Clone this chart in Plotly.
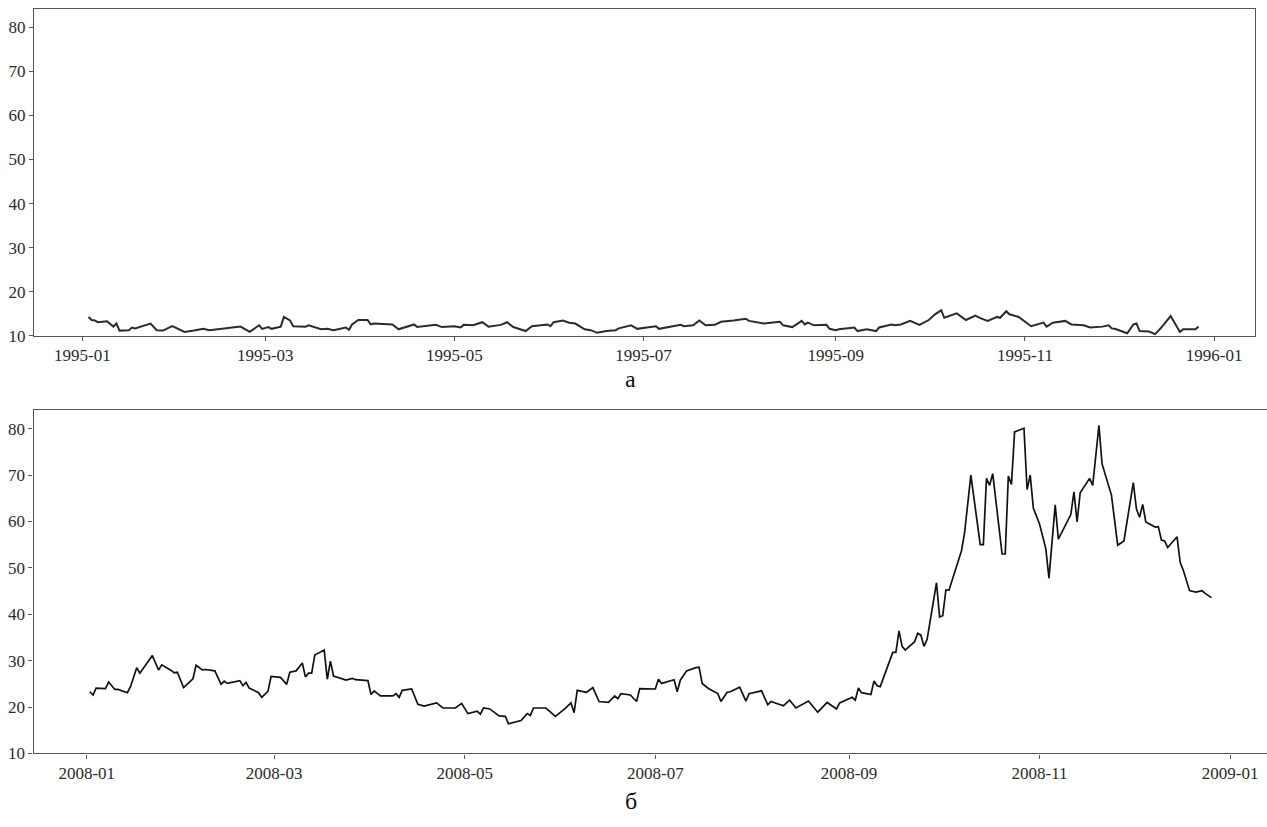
import plotly.graph_objects as go

# --- 1995 series ---
dates_1995 = [
    "1995-01-03", "1995-01-04", "1995-01-05", "1995-01-06", "1995-01-09", "1995-01-11",
    "1995-01-12", "1995-01-13", "1995-01-16", "1995-01-17", "1995-01-18", "1995-01-23",
    "1995-01-25", "1995-01-27", "1995-01-30", "1995-02-03", "1995-02-06", "1995-02-09",
    "1995-02-11", "1995-02-21", "1995-02-24", "1995-02-27", "1995-02-28", "1995-03-02",
    "1995-03-03", "1995-03-06", "1995-03-07", "1995-03-09", "1995-03-10", "1995-03-14",
    "1995-03-15", "1995-03-19", "1995-03-21", "1995-03-23", "1995-03-27", "1995-03-28",
    "1995-03-29", "1995-03-31", "1995-04-03", "1995-04-04", "1995-04-05", "1995-04-11",
    "1995-04-13", "1995-04-18", "1995-04-19", "1995-04-22", "1995-04-25", "1995-04-27",
    "1995-05-01", "1995-05-03", "1995-05-04", "1995-05-07", "1995-05-10", "1995-05-12",
    "1995-05-16", "1995-05-18", "1995-05-20", "1995-05-24", "1995-05-26", "1995-05-31",
    "1995-06-01", "1995-06-02", "1995-06-05", "1995-06-07", "1995-06-09", "1995-06-12",
    "1995-06-14", "1995-06-16", "1995-06-19", "1995-06-22", "1995-06-23", "1995-06-27",
    "1995-06-29", "1995-07-02", "1995-07-05", "1995-07-06", "1995-07-10", "1995-07-13",
    "1995-07-14", "1995-07-17", "1995-07-19", "1995-07-21", "1995-07-24", "1995-07-26",
    "1995-07-30", "1995-08-03", "1995-08-04", "1995-08-07", "1995-08-09", "1995-08-11",
    "1995-08-14", "1995-08-15", "1995-08-18", "1995-08-21", "1995-08-22", "1995-08-23",
    "1995-08-25", "1995-08-29", "1995-08-30", "1995-09-01", "1995-09-02", "1995-09-07",
    "1995-09-08", "1995-09-11", "1995-09-14", "1995-09-15", "1995-09-19", "1995-09-20",
    "1995-09-22", "1995-09-25", "1995-09-28", "1995-10-01", "1995-10-03", "1995-10-05",
    "1995-10-06", "1995-10-10", "1995-10-13", "1995-10-16", "1995-10-18", "1995-10-20",
    "1995-10-23", "1995-10-24", "1995-10-26", "1995-10-27", "1995-10-30", "1995-11-03",
    "1995-11-07", "1995-11-08", "1995-11-10", "1995-11-14", "1995-11-16", "1995-11-20",
    "1995-11-22", "1995-11-26", "1995-11-28", "1995-11-29", "1995-11-30", "1995-12-02",
    "1995-12-04", "1995-12-06", "1995-12-07", "1995-12-08", "1995-12-11", "1995-12-13",
    "1995-12-15", "1995-12-18", "1995-12-21", "1995-12-22", "1995-12-26", "1995-12-27",
]
values_1995 = [
    14.3, 13.6, 13.5, 13.1, 13.3, 12.1,
    12.8, 11.2, 11.3, 11.9, 11.7, 12.8,
    11.3, 11.2, 12.2, 10.9, 11.2, 11.6,
    11.3, 12.1, 10.9, 12.4, 11.6, 12.0,
    11.6, 12.1, 14.3, 13.5, 12.2, 12.1,
    12.4, 11.5, 11.6, 11.3, 11.9, 11.4,
    12.6, 13.6, 13.6, 12.6, 12.8, 12.6,
    11.5, 12.6, 12.0, 12.2, 12.5, 12.0,
    12.2, 11.9, 12.5, 12.4, 13.1, 12.1,
    12.5, 13.1, 12.0, 11.1, 12.2, 12.6,
    12.2, 13.1, 13.5, 13.0, 12.8, 11.5,
    11.3, 10.7, 11.1, 11.3, 11.7, 12.4,
    11.6, 11.9, 12.2, 11.6, 12.2, 12.5,
    12.2, 12.4, 13.5, 12.4, 12.5, 13.2,
    13.5, 13.9, 13.4, 13.1, 12.8, 13.0,
    13.2, 12.4, 12.0, 13.4, 12.6, 13.0,
    12.4, 12.5, 11.6, 11.3, 11.5, 11.9,
    11.1, 11.5, 11.1, 11.9, 12.6, 12.4,
    12.6, 13.4, 12.5, 13.6, 14.9, 15.8,
    14.1, 15.1, 13.6, 14.6, 13.9, 13.4,
    14.3, 14.1, 15.6, 14.9, 14.3, 12.2,
    13.0, 12.1, 13.0, 13.4, 12.6, 12.4,
    11.9, 12.1, 12.4, 11.7, 11.6, 11.1,
    10.6, 12.6, 12.8, 11.1, 11.0, 10.4,
    11.9, 14.5, 10.9, 11.5, 11.5, 12.1,
]

# --- 2008 series ---
dates_2008 = [
    "2008-01-02", "2008-01-03", "2008-01-04", "2008-01-07", "2008-01-08", "2008-01-10",
    "2008-01-11", "2008-01-14", "2008-01-15", "2008-01-17", "2008-01-18", "2008-01-20",
    "2008-01-22", "2008-01-24", "2008-01-25", "2008-01-28", "2008-01-29", "2008-01-30",
    "2008-02-01", "2008-02-04", "2008-02-05", "2008-02-07", "2008-02-08", "2008-02-11",
    "2008-02-13", "2008-02-14", "2008-02-15", "2008-02-19", "2008-02-20", "2008-02-21",
    "2008-02-22", "2008-02-25", "2008-02-26", "2008-02-28", "2008-02-29", "2008-03-03",
    "2008-03-05", "2008-03-06", "2008-03-08", "2008-03-10", "2008-03-11", "2008-03-12",
    "2008-03-13", "2008-03-14", "2008-03-17", "2008-03-18", "2008-03-19", "2008-03-20",
    "2008-03-24", "2008-03-26", "2008-03-27", "2008-03-31", "2008-04-01", "2008-04-02",
    "2008-04-04", "2008-04-08", "2008-04-09", "2008-04-10", "2008-04-11", "2008-04-14",
    "2008-04-16", "2008-04-18", "2008-04-22", "2008-04-24", "2008-04-28", "2008-04-30",
    "2008-05-02", "2008-05-05", "2008-05-06", "2008-05-07", "2008-05-09", "2008-05-12",
    "2008-05-14", "2008-05-15", "2008-05-19", "2008-05-21", "2008-05-22", "2008-05-23",
    "2008-05-27", "2008-05-30", "2008-06-02", "2008-06-04", "2008-06-05", "2008-06-06",
    "2008-06-09", "2008-06-11", "2008-06-13", "2008-06-16", "2008-06-18", "2008-06-19",
    "2008-06-20", "2008-06-23", "2008-06-25", "2008-06-26", "2008-07-01", "2008-07-02",
    "2008-07-03", "2008-07-07", "2008-07-08", "2008-07-09", "2008-07-11", "2008-07-14",
    "2008-07-15", "2008-07-16", "2008-07-18", "2008-07-21", "2008-07-22", "2008-07-24",
    "2008-07-25", "2008-07-28", "2008-07-30", "2008-07-31", "2008-08-04", "2008-08-06",
    "2008-08-07", "2008-08-11", "2008-08-13", "2008-08-15", "2008-08-19", "2008-08-22",
    "2008-08-25", "2008-08-28", "2008-08-29", "2008-09-02", "2008-09-03", "2008-09-04",
    "2008-09-05", "2008-09-08", "2008-09-09", "2008-09-10", "2008-09-11", "2008-09-15",
    "2008-09-16", "2008-09-17", "2008-09-18", "2008-09-19", "2008-09-22", "2008-09-23",
    "2008-09-24", "2008-09-25", "2008-09-26", "2008-09-29", "2008-09-30", "2008-10-01",
    "2008-10-02", "2008-10-03", "2008-10-07", "2008-10-08", "2008-10-10", "2008-10-13",
    "2008-10-14", "2008-10-15", "2008-10-16", "2008-10-17", "2008-10-20", "2008-10-21",
    "2008-10-22", "2008-10-23", "2008-10-24", "2008-10-27", "2008-10-28", "2008-10-29",
    "2008-10-30", "2008-11-01", "2008-11-03", "2008-11-04", "2008-11-06", "2008-11-07",
    "2008-11-11", "2008-11-12", "2008-11-13", "2008-11-14", "2008-11-17", "2008-11-18",
    "2008-11-20", "2008-11-21", "2008-11-24", "2008-11-26", "2008-11-28", "2008-12-01",
    "2008-12-02", "2008-12-03", "2008-12-04", "2008-12-05", "2008-12-08", "2008-12-09",
    "2008-12-10", "2008-12-11", "2008-12-12", "2008-12-15", "2008-12-16", "2008-12-17",
    "2008-12-19", "2008-12-21", "2008-12-23", "2008-12-24", "2008-12-26",
]
values_2008 = [
    23.3, 22.6, 24.1, 24.0, 25.4, 23.8,
    23.8, 23.1, 24.4, 28.5, 27.3, 29.3,
    31.1, 28.0, 29.1, 27.9, 27.4, 27.5,
    24.2, 26.1, 29.0, 28.0, 28.1, 27.8,
    24.9, 25.6, 25.1, 25.7, 24.6, 25.3,
    24.1, 23.1, 22.1, 23.4, 26.6, 26.4,
    24.9, 27.5, 27.8, 29.5, 26.5, 27.3,
    27.3, 31.2, 32.3, 26.0, 29.9, 26.7,
    25.8, 26.2, 25.9, 25.7, 22.7, 23.5,
    22.4, 22.4, 22.9, 22.1, 23.6, 23.9,
    20.6, 20.2, 20.9, 19.8, 19.8, 20.8,
    18.6, 19.1, 18.5, 19.8, 19.6, 18.1,
    18.0, 16.4, 17.1, 18.6, 18.2, 19.8,
    19.8, 18.0, 19.6, 20.9, 18.8, 23.6,
    23.2, 24.2, 21.2, 21.0, 22.4, 21.8,
    22.9, 22.6, 21.2, 24.0, 23.9, 26.0,
    25.1, 25.9, 23.3, 25.8, 27.8, 28.5,
    28.6, 25.1, 24.0, 22.9, 21.2, 23.2,
    23.3, 24.3, 21.3, 22.9, 23.5, 20.5,
    21.2, 20.3, 21.5, 19.8, 21.3, 18.9,
    21.0, 19.6, 20.9, 22.1, 21.5, 24.1,
    23.1, 22.7, 25.6, 24.6, 24.4, 31.8,
    31.8, 36.4, 33.1, 32.3, 34.1, 35.9,
    35.5, 33.1, 34.6, 46.8, 39.4, 39.7,
    45.2, 45.2, 53.7, 57.6, 70.0, 55.0,
    55.0, 69.3, 67.8, 70.3, 53.0, 53.0,
    69.8, 68.0, 79.3, 80.1, 66.9, 70.0,
    62.9, 59.4, 54.1, 47.8, 63.6, 56.2,
    61.5, 66.4, 59.9, 66.2, 69.3, 67.8,
    80.7, 72.4, 65.7, 54.9, 55.8, 68.4,
    62.7, 60.9, 63.7, 59.9, 58.8, 58.9,
    56.0, 55.8, 54.4, 56.7, 51.2, 49.5,
    45.1, 44.8, 45.1, 44.5, 43.6,
]

# Tick positions and labels
ticks_1995 = ["1995-01-01", "1995-03-01", "1995-05-01", "1995-07-01",
              "1995-09-01", "1995-11-01", "1996-01-01"]
ticklabels_1995 = ["1995-01", "1995-03", "1995-05", "1995-07",
                   "1995-09", "1995-11", "1996-01"]
ticks_2008 = ["2008-01-01", "2008-03-01", "2008-05-01", "2008-07-01",
              "2008-09-01", "2008-11-01", "2009-01-01"]
ticklabels_2008 = ["2008-01", "2008-03", "2008-05", "2008-07",
                   "2008-09", "2008-11", "2009-01"]
y_ticks = [10, 20, 30, 40, 50, 60, 70, 80]
panel_labels = ["а", "б"]

W, H = 1267, 827
SERIF = "Liberation Serif, Times New Roman, serif"
AXIS_COLOR = "#555555"
TICK_FONT = dict(family=SERIF, size=17, color="#2a2a2a")

fig = go.Figure()
fig.add_trace(go.Scatter(x=dates_1995, y=values_1995, mode="lines",
                         line=dict(color="#2b2b2b", width=2),
                         xaxis="x", yaxis="y", showlegend=False))
fig.add_trace(go.Scatter(x=dates_2008, y=values_2008, mode="lines",
                         line=dict(color="#111111", width=1.7),
                         xaxis="x2", yaxis="y2", showlegend=False))

common_x = dict(type="date", showgrid=False, zeroline=False, showline=True,
                linecolor=AXIS_COLOR, linewidth=1.2, mirror=True,
                ticks="outside", ticklen=4, tickcolor=AXIS_COLOR,
                tickfont=TICK_FONT, tickmode="array")
common_y = dict(showgrid=False, zeroline=False, showline=True,
                linecolor=AXIS_COLOR, linewidth=1.2,
                ticks="outside", ticklen=4, tickcolor=AXIS_COLOR,
                tickfont=TICK_FONT, tickmode="array",
                tickvals=y_ticks, ticktext=[str(v) for v in y_ticks],
                range=[10, 84.1])

fig.update_layout(
    width=W, height=H,
    margin=dict(l=0, r=0, t=0, b=0),
    paper_bgcolor="white", plot_bgcolor="white",
    xaxis=dict(common_x, domain=[34 / W, 1255 / W], anchor="y",
               range=["1994-12-16 10:00", "1996-01-14 05:00"],
               tickvals=ticks_1995, ticktext=ticklabels_1995),
    yaxis=dict(common_y, domain=[1 - 340 / H, 1 - 9.3 / H], anchor="x",
               mirror=True),
    xaxis2=dict(common_x, domain=[33.5 / W, 1.0], anchor="y2",
                range=["2007-12-14 23:00", "2009-01-12 19:00"],
                tickvals=ticks_2008, ticktext=ticklabels_2008),
    yaxis2=dict(common_y, domain=[1 - 762.7 / H, 1 - 414.7 / H], anchor="x2",
                mirror=False),
)

fig.add_annotation(text=panel_labels[0], x=630.7 / W, y=1 - 384 / H,
                   xref="paper", yref="paper", showarrow=False,
                   xanchor="center", yanchor="middle",
                   font=dict(family=SERIF, size=24, color="#111111"))
fig.add_annotation(text=panel_labels[1], x=630.7 / W, y=1 - 811 / H,
                   xref="paper", yref="paper", showarrow=False,
                   xanchor="center", yanchor="middle",
                   font=dict(family=SERIF, size=24, color="#111111"))

fig.write_html("out.html", config={"displayModeBar": False})
